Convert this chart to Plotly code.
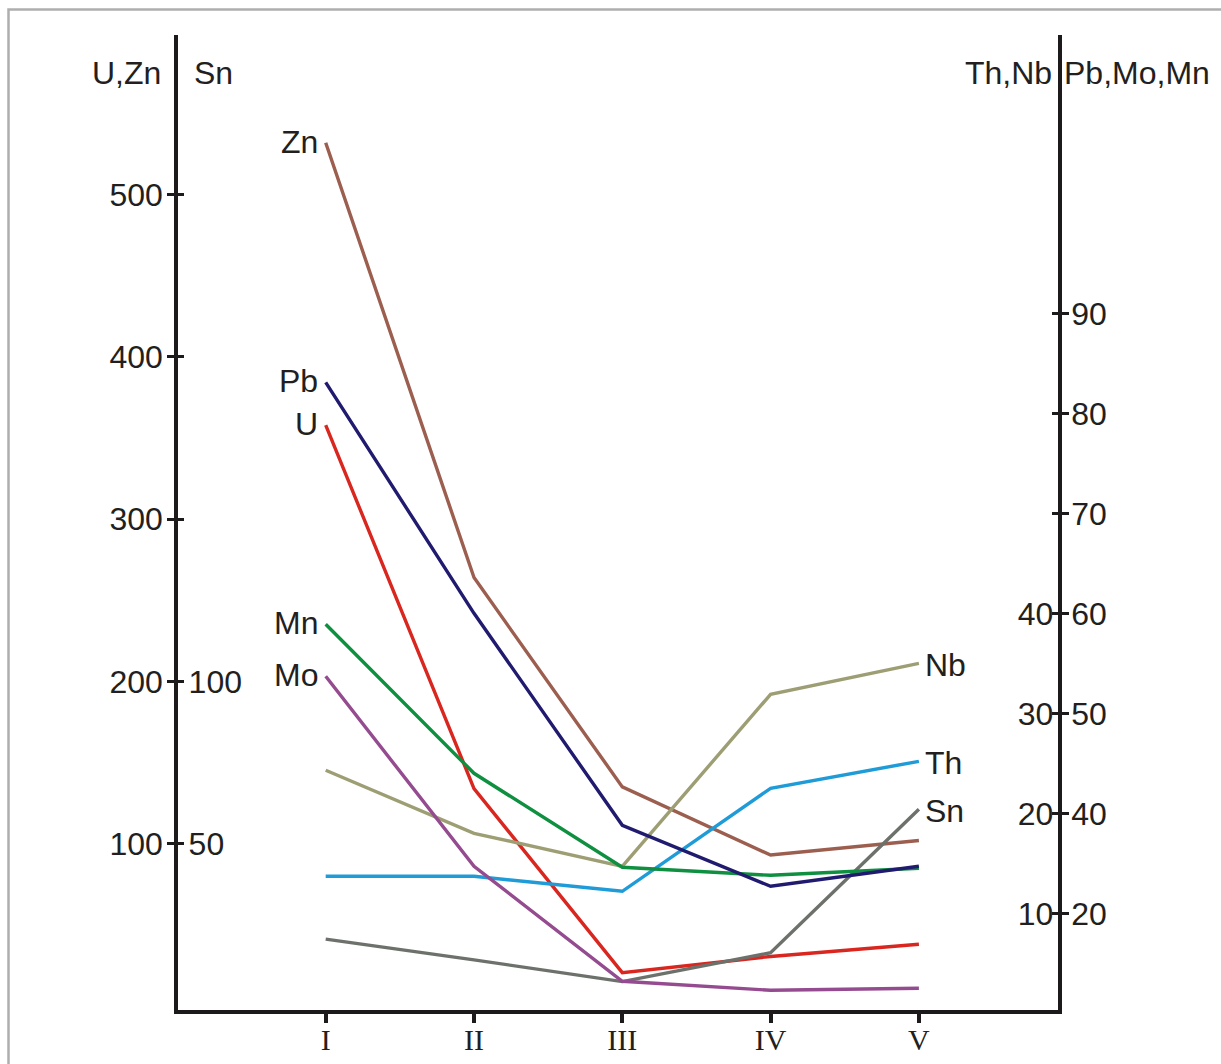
import plotly.graph_objects as go

# Sampling stages along the profile
stages = ["I", "II", "III", "IV", "V"]

# Element contents per stage (units of their own scale)
zn = [532, 264, 135, 93, 102]        # U,Zn scale
u = [358, 134, 20.5, 30.5, 38]       # U,Zn scale
sn = [20.6, 14.2, 7.5, 16.4, 60.6]   # Sn scale
pb = [83.1, 60.0, 38.8, 32.7, 34.7]  # Pb,Mo,Mn scale
mn = [58.9, 44.0, 34.6, 33.8, 34.5]  # Pb,Mo,Mn scale
mo = [53.7, 34.7, 23.2, 22.3, 22.5]  # Pb,Mo,Mn scale
th = [13.7, 13.7, 12.2, 22.5, 25.2]  # Th,Nb scale
nb = [24.3, 18.0, 14.7, 31.9, 35.0]  # Th,Nb scale

# Axis tick values / labels
uzn_ticks = [100, 200, 300, 400, 500]
sn_ticks = [50, 100, 150, 200, 250]
sn_ticktext = ["50", "100", "", "", ""]
thnb_ticks = [10, 20, 30, 40, 50, 60, 70]
thnb_ticktext = ["10", "20", "30", "40", "", "", ""]
pb_ticks = [30, 40, 50, 60, 70, 80, 90]
pb_ticktext = ["20", "40", "50", "60", "70", "80", "90"]

FONT = "Liberation Sans, Arial, sans-serif"
TXT = "#231f20"
AX = "#1c1a1b"
FS = 32

series = [
    # name, values, y-axis, colour, label side
    ("Zn", zn, "y", "#9c5e4f", "left"),
    ("U", u, "y", "#d9261f", "left"),
    ("Sn", sn, "y2", "#6d716b", "right"),
    ("Pb", pb, "y4", "#211b70", "left"),
    ("Mn", mn, "y4", "#0f8f40", "left"),
    ("Mo", mo, "y4", "#954b8f", "left"),
    ("Th", th, "y3", "#1f9bd7", "right"),
    ("Nb", nb, "y3", "#9d9e73", "right"),
]

fig = go.Figure()
draw_order = ["Nb", "Th", "Sn", "Mo", "U", "Mn", "Pb", "Zn"]
lookup = {s[0]: s for s in series}
for key in draw_order:
    name, vals, yax, col, side = lookup[key]
    fig.add_trace(go.Scatter(
        x=stages, y=vals, yaxis=yax, mode="lines", name=name,
        line=dict(color=col, width=3.4), showlegend=False, hoverinfo="skip",
    ))

# Element labels at line ends
for name, vals, yax, col, side in series:
    if side == "left":
        fig.add_annotation(x=stages[0], y=vals[0], xref="x", yref=yax, text=name,
                           showarrow=False, xanchor="right", yanchor="middle",
                           xshift=-6, yshift=1,
                           font=dict(family=FONT, size=FS, color=TXT))
    else:
        fig.add_annotation(x=stages[-1], y=vals[-1], xref="x", yref=yax, text=name,
                           showarrow=False, xanchor="left", yanchor="middle",
                           xshift=4, yshift=-2,
                           font=dict(family=FONT, size=FS, color=TXT))

# Scale headers above the axes
W, L, T, B = 880, 178, 35, 1010
def px(x):
    return (x - L) / W
def py(y):
    return (B - y) / (B - T)

headers = [
    ("U,Zn", 163, "right"),
    ("Sn", 192, "left"),
    ("Th,Nb", 1054, "right"),
    ("Pb,Mo,Mn", 1062, "left"),
]
for text, x, anchor in headers:
    fig.add_annotation(x=px(x), y=py(73), xref="paper", yref="paper", text=text,
                       showarrow=False, xanchor=anchor, yanchor="middle",
                       font=dict(family=FONT, size=FS, color=TXT))

# Light frame around the figure
fig.add_shape(type="rect", xref="paper", yref="paper",
              x0=px(8.5), x1=px(1300), y0=py(1100), y1=py(9.5),
              line=dict(color="#aeaeae", width=2.5), layer="below")

tickfont = dict(family=FONT, size=FS, color=TXT)

fig.update_layout(
    width=1221, height=1064,
    margin=dict(l=L, r=1221 - L - W, t=T, b=1064 - B, autoexpand=False),
    paper_bgcolor="white", plot_bgcolor="white",
    xaxis=dict(
        type="category", range=[-0.996, 4.938], automargin=False,
        tickvals=stages, ticktext=stages,
        showgrid=False, zeroline=False,
        showline=True, linecolor=AX, linewidth=3.5,
        ticks="outside", ticklen=9, tickwidth=3.5, tickcolor=AX,
        tickfont=dict(family="Liberation Serif, Times New Roman, serif", size=30, color=TXT),
        ticklabelstandoff=-9,
    ),
    yaxis=dict(
        range=[-2.5, 598.4], tickvals=uzn_ticks, automargin=False,
        showgrid=False, zeroline=False,
        showline=True, linecolor=AX, linewidth=3.5,
        ticks="outside", ticklen=7, tickwidth=2.5, tickcolor=AX,
        tickfont=tickfont, ticklabelstandoff=-2,
    ),
    yaxis2=dict(
        range=[-1.25, 299.2], overlaying="y", side="left", anchor="x", automargin=False,
        tickvals=sn_ticks, ticktext=sn_ticktext, ticklabelposition="inside",
        showgrid=False, zeroline=False, showline=False,
        ticks="inside", ticklen=6, tickwidth=2.5, tickcolor=AX,
        tickfont=tickfont, ticklabelstandoff=8,
    ),
    yaxis3=dict(
        range=[0.33, 97.83], overlaying="y", side="right", anchor="x", automargin=False,
        tickvals=thnb_ticks, ticktext=thnb_ticktext, ticklabelposition="inside",
        showgrid=False, zeroline=False, showline=False,
        ticks="inside", ticklen=6, tickwidth=2.5, tickcolor=AX,
        tickfont=tickfont, ticklabelstandoff=2,
    ),
    yaxis4=dict(
        range=[20.33, 117.83], overlaying="y", side="right", anchor="x", automargin=False,
        tickvals=pb_ticks, ticktext=pb_ticktext,
        showgrid=False, zeroline=False,
        showline=True, linecolor=AX, linewidth=3.5,
        ticks="outside", ticklen=7, tickwidth=2.5, tickcolor=AX,
        tickfont=tickfont, ticklabelstandoff=-4,
    ),
)

fig.write_html("out.html")
